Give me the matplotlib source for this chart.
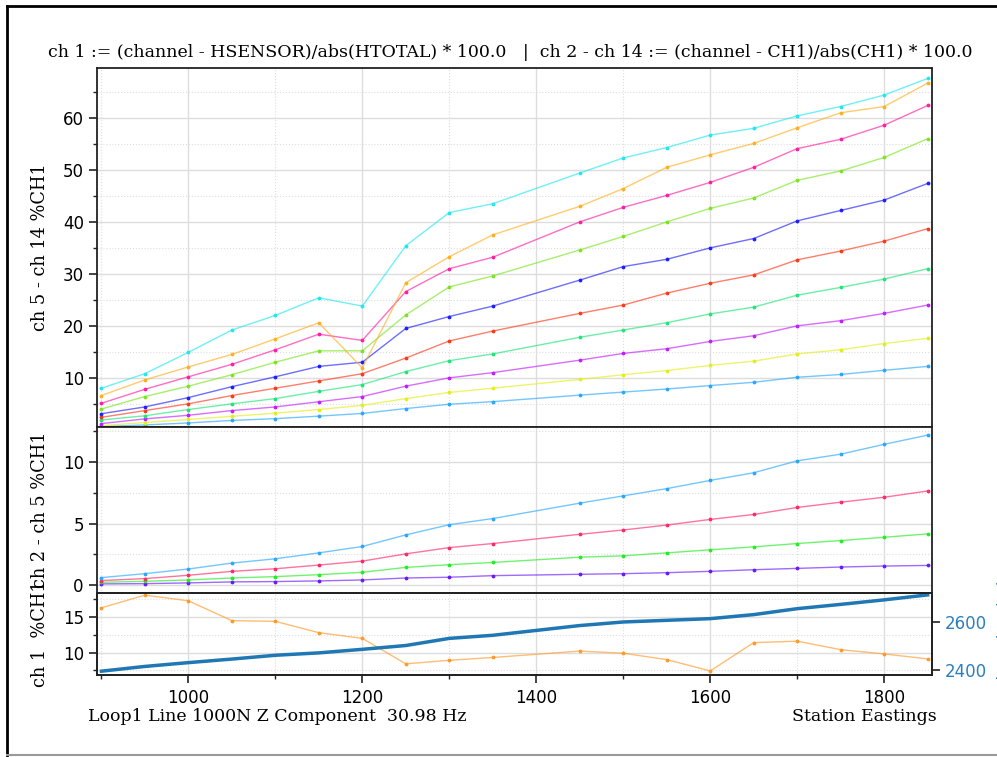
import numpy as np
import matplotlib
matplotlib.use('Agg')
import matplotlib.pyplot as plt
from matplotlib.ticker import MultipleLocator
from matplotlib.lines import Line2D

# station eastings (1400 was not recorded)
stations = [900, 950, 1000, 1050, 1100, 1150, 1200, 1250, 1300, 1350,
            1450, 1500, 1550, 1600, 1650, 1700, 1750, 1800, 1850]

# ch 1 : % of HTOTAL
ch1 = [16.3, 18.1, 17.3, 14.5, 14.4, 12.8, 12.0, 8.4, 8.9, 9.3,
       10.2, 9.9, 9.0, 7.4, 11.4, 11.6, 10.4, 9.8, 9.1]
elevation = [2394, 2414, 2430, 2445, 2461, 2471, 2486, 2502, 2532, 2545,
             2586, 2601, 2608, 2615, 2632, 2657, 2675, 2694, 2715]

# ch 2 - ch 5 : % of CH1
ch2 = [0.11, 0.13, 0.19, 0.27, 0.30, 0.35, 0.43, 0.59, 0.65, 0.78,
       0.89, 0.94, 1.02, 1.13, 1.26, 1.37, 1.48, 1.56, 1.61]
ch3 = [0.24, 0.32, 0.43, 0.59, 0.70, 0.86, 1.05, 1.45, 1.67, 1.85,
       2.28, 2.39, 2.63, 2.88, 3.12, 3.39, 3.63, 3.90, 4.17]
ch4 = [0.38, 0.54, 0.81, 1.13, 1.34, 1.64, 1.96, 2.55, 3.06, 3.39,
       4.14, 4.49, 4.89, 5.35, 5.75, 6.32, 6.75, 7.15, 7.66]
ch5 = [0.62, 0.94, 1.32, 1.80, 2.15, 2.63, 3.15, 4.09, 4.92, 5.42,
       6.67, 7.26, 7.85, 8.52, 9.14, 10.11, 10.65, 11.45, 12.20]

# ch 6 - ch 14 : % of CH1
ch6 = [0.8, 1.4, 2.0, 2.6, 3.2, 3.9, 4.7, 6.0, 7.2, 8.0,
       9.7, 10.6, 11.4, 12.4, 13.2, 14.6, 15.4, 16.6, 17.6]
ch7 = [1.2, 2.1, 2.8, 3.7, 4.4, 5.4, 6.4, 8.4, 10.0, 11.0,
       13.4, 14.7, 15.6, 17.0, 18.1, 20.0, 21.0, 22.4, 24.0]
ch8 = [1.9, 2.7, 3.9, 5.0, 6.0, 7.4, 8.7, 11.2, 13.3, 14.6,
       17.8, 19.2, 20.6, 22.3, 23.6, 25.9, 27.4, 29.0, 31.0]
ch9 = [2.4, 3.7, 5.0, 6.6, 8.0, 9.4, 10.8, 13.8, 17.1, 19.0,
       22.4, 24.0, 26.3, 28.2, 29.8, 32.7, 34.4, 36.3, 38.7]
ch10 = [3.1, 4.4, 6.2, 8.3, 10.2, 12.2, 13.0, 19.5, 21.8, 23.8,
        28.8, 31.4, 32.8, 35.0, 36.8, 40.2, 42.2, 44.2, 47.4]
ch11 = [4.0, 6.4, 8.4, 10.6, 13.0, 15.2, 15.2, 22.1, 27.5, 29.6,
        34.6, 37.2, 40.0, 42.6, 44.6, 48.0, 49.8, 52.4, 56.0]
ch12 = [5.1, 7.8, 10.2, 12.6, 15.4, 18.4, 17.2, 26.6, 31.0, 33.2,
        40.0, 42.8, 45.1, 47.6, 50.5, 54.1, 55.9, 58.6, 62.4]
ch13 = [6.6, 9.6, 12.1, 14.5, 17.5, 20.6, 11.9, 28.3, 33.3, 37.5,
        43.0, 46.4, 50.5, 52.9, 55.1, 58.1, 61.0, 62.2, 66.7]
ch14 = [8.0, 10.8, 14.9, 19.2, 22.0, 25.4, 23.8, 35.4, 41.8, 43.5,
        49.4, 52.3, 54.3, 56.7, 58.0, 60.4, 62.2, 64.4, 67.6]

colors = {
    'ch2': '#6a1aff', 'ch3': '#22ee22', 'ch4': '#ff2a6a', 'ch5': '#2aa8ff',
    'ch6': '#e4ee1a', 'ch7': '#c21fff', 'ch8': '#1fe67a', 'ch9': '#ff3a1a',
    'ch10': '#2020ff', 'ch11': '#7ae61f', 'ch12': '#ff1fa5', 'ch13': '#ffb020',
    'ch14': '#20e8f0', 'ch1': '#ff9a2a',
}

serif = 'DejaVu Serif'
fs_text = 12.5   # title / footer
fs_label = 12.8  # y labels


def draw(ax, y, c):
    ax.plot(stations, y, color=c, lw=1.0, alpha=0.65)
    ax.plot(stations, y, color=c, lw=0, marker='.', ms=3.5)


def style(ax):
    ax.grid(which='major', color='#dddddd', lw=1.0, ls='-')
    ax.grid(which='minor', color='#dddddd', lw=0.8, ls=':')
    ax.set_axisbelow(True)
    for s in ax.spines.values():
        s.set_color('#222222')
        s.set_linewidth(1.3)
    ax.tick_params(which='major', direction='out', length=6, width=1.2,
                   labelsize=12, color='#222222')
    ax.tick_params(which='minor', direction='out', length=3, width=1.0,
                   color='#222222')
    ax.xaxis.set_major_locator(MultipleLocator(200))
    ax.xaxis.set_minor_locator(MultipleLocator(100))
    ax.set_xlim(895, 1855)


fig = plt.figure(figsize=(9.97, 7.57), dpi=100)

left, width = 0.0973, 0.8375
ax1 = fig.add_axes([left, 0.4353, width, 0.4755])
ax2 = fig.add_axes([left, 0.2173, width, 0.2180], sharex=ax1)
ax3 = fig.add_axes([left, 0.1077, width, 0.1096], sharex=ax1)

# top panel: ch 5 - ch 14
for name, y in [('ch5', ch5), ('ch6', ch6), ('ch7', ch7), ('ch8', ch8),
                ('ch9', ch9), ('ch10', ch10), ('ch11', ch11), ('ch12', ch12),
                ('ch13', ch13), ('ch14', ch14)]:
    draw(ax1, y, colors[name])
style(ax1)
ax1.set_ylim(0.45, 69.7)
ax1.yaxis.set_major_locator(MultipleLocator(10))
ax1.yaxis.set_minor_locator(MultipleLocator(5))
ax1.tick_params(labelbottom=False)
ax1.set_ylabel('ch 5 - ch 14 %CH1', family=serif, fontsize=fs_label)

# middle panel: ch 2 - ch 5
for name, y in [('ch2', ch2), ('ch3', ch3), ('ch4', ch4), ('ch5', ch5)]:
    draw(ax2, y, colors[name])
style(ax2)
ax2.set_ylim(-0.59, 12.82)
ax2.yaxis.set_major_locator(MultipleLocator(5))
ax2.yaxis.set_minor_locator(MultipleLocator(2.5))
ax2.tick_params(labelbottom=False)
ax2.set_ylabel('ch 2 - ch 5 %CH1', family=serif, fontsize=fs_label)

# bottom panel: ch 1 + elevation on twin axis
draw(ax3, ch1, colors['ch1'])
style(ax3)
ax3.set_ylim(6.76, 18.47)
ax3.yaxis.set_major_locator(MultipleLocator(5))
ax3.yaxis.set_minor_locator(MultipleLocator(2.5))
ax3.set_ylabel('ch 1  %CH1', family=serif, fontsize=fs_label)

ax4 = ax3.twinx()
ax4.plot(stations, elevation, color='#1f77b4', lw=2.5)
ax4.set_ylim(2376, 2725)
ax4.yaxis.set_major_locator(MultipleLocator(200))
ax4.tick_params(axis='y', direction='out', length=6, width=1.2,
                labelsize=12, colors='#222222', labelcolor='#2a7fc0')
for s in ax4.spines.values():
    s.set_color('#222222')
    s.set_linewidth(1.3)
ax4.set_ylabel('Elevation (m)', color='#2a7fc0', fontsize=12, labelpad=7)

for ax in (ax1, ax2, ax3):
    ax.yaxis.set_label_coords(-0.058, 0.5)

fig.text(0.5115, 0.931,
         'ch 1 := (channel - HSENSOR)/abs(HTOTAL) * 100.0   |  '
         'ch 2 - ch 14 := (channel - CH1)/abs(CH1) * 100.0',
         ha='center', va='center', family=serif, fontsize=fs_text)
fig.text(0.088, 0.053, 'Loop1 Line 1000N Z Component  30.98 Hz',
         ha='left', va='center', family=serif, fontsize=fs_text)
fig.text(0.940, 0.053, 'Station Eastings',
         ha='right', va='center', family=serif, fontsize=fs_text)

# frame around the figure
fig.add_artist(Line2D([0.007, 0.007], [0.0, 0.992], transform=fig.transFigure,
                      color='black', lw=2))
fig.add_artist(Line2D([0.007, 1.0], [0.992, 0.992], transform=fig.transFigure,
                      color='black', lw=2))
fig.add_artist(Line2D([0.007, 1.0], [0.003, 0.003], transform=fig.transFigure,
                      color='#999999', lw=1.5))

fig.savefig('out.png', dpi=100)
